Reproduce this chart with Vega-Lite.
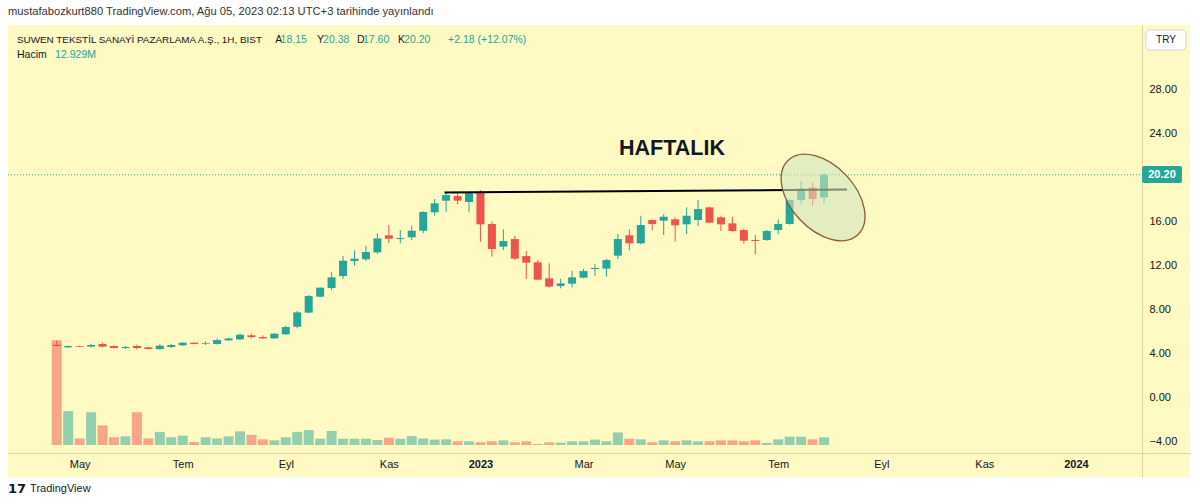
{
  "$schema": "https://vega.github.io/schema/vega-lite/v6.json",
  "width": 1182,
  "height": 452,
  "autosize": {"type": "none"},
  "padding": {"left": 8, "top": 25, "right": 10, "bottom": 27},
  "background": "#ffffff",
  "config": {
    "view": {"fill": "#fff9c4", "stroke": null},
    "font": "Liberation Sans",
    "text": {"font": "Liberation Sans"},
    "scale": {"continuousPadding": 0}
  },
  "datasets": {
    "candles": [
      {"d": "2022-04-18", "o": 4.76, "h": 5.12, "l": 4.60, "c": 4.64, "v": 176},
      {"d": "2022-04-25", "o": 4.52, "h": 4.67, "l": 4.45, "c": 4.64, "v": 57},
      {"d": "2022-05-02", "o": 4.61, "h": 4.66, "l": 4.52, "c": 4.55, "v": 11},
      {"d": "2022-05-09", "o": 4.58, "h": 4.85, "l": 4.52, "c": 4.73, "v": 55},
      {"d": "2022-05-16", "o": 4.82, "h": 4.94, "l": 4.52, "c": 4.58, "v": 33},
      {"d": "2022-05-23", "o": 4.64, "h": 4.70, "l": 4.42, "c": 4.45, "v": 13},
      {"d": "2022-05-30", "o": 4.45, "h": 4.64, "l": 4.39, "c": 4.55, "v": 14.6},
      {"d": "2022-06-06", "o": 4.64, "h": 4.76, "l": 4.33, "c": 4.45, "v": 55},
      {"d": "2022-06-13", "o": 4.52, "h": 4.55, "l": 4.33, "c": 4.36, "v": 11},
      {"d": "2022-06-20", "o": 4.36, "h": 4.79, "l": 4.30, "c": 4.67, "v": 22},
      {"d": "2022-06-27", "o": 4.55, "h": 4.82, "l": 4.45, "c": 4.73, "v": 13},
      {"d": "2022-07-04", "o": 4.70, "h": 4.97, "l": 4.64, "c": 4.94, "v": 15.7},
      {"d": "2022-07-11", "o": 4.94, "h": 4.97, "l": 4.79, "c": 4.82, "v": 5},
      {"d": "2022-07-18", "o": 4.82, "h": 5.06, "l": 4.73, "c": 4.88, "v": 13},
      {"d": "2022-07-25", "o": 4.82, "h": 5.30, "l": 4.76, "c": 5.18, "v": 11},
      {"d": "2022-08-01", "o": 5.15, "h": 5.39, "l": 5.12, "c": 5.33, "v": 14.6},
      {"d": "2022-08-08", "o": 5.24, "h": 5.78, "l": 5.19, "c": 5.66, "v": 23},
      {"d": "2022-08-15", "o": 5.61, "h": 5.76, "l": 5.33, "c": 5.45, "v": 17},
      {"d": "2022-08-22", "o": 5.45, "h": 5.61, "l": 5.30, "c": 5.33, "v": 9.5},
      {"d": "2022-08-29", "o": 5.33, "h": 5.82, "l": 5.30, "c": 5.76, "v": 7.8},
      {"d": "2022-09-05", "o": 5.70, "h": 6.48, "l": 5.64, "c": 6.36, "v": 13},
      {"d": "2022-09-12", "o": 6.39, "h": 7.82, "l": 6.24, "c": 7.70, "v": 22},
      {"d": "2022-09-19", "o": 7.67, "h": 9.27, "l": 7.61, "c": 9.18, "v": 25},
      {"d": "2022-09-26", "o": 9.12, "h": 9.97, "l": 9.06, "c": 9.94, "v": 10.6},
      {"d": "2022-10-03", "o": 9.91, "h": 11.36, "l": 9.73, "c": 10.88, "v": 23.5},
      {"d": "2022-10-10", "o": 11.00, "h": 12.82, "l": 10.76, "c": 12.39, "v": 10.6},
      {"d": "2022-10-17", "o": 12.36, "h": 13.33, "l": 11.94, "c": 12.58, "v": 10.6},
      {"d": "2022-10-24", "o": 12.52, "h": 13.76, "l": 12.36, "c": 13.18, "v": 10.6},
      {"d": "2022-10-31", "o": 13.15, "h": 14.88, "l": 13.00, "c": 14.42, "v": 8.4},
      {"d": "2022-11-07", "o": 14.70, "h": 15.64, "l": 14.00, "c": 14.39, "v": 12.3},
      {"d": "2022-11-14", "o": 14.36, "h": 15.18, "l": 13.97, "c": 14.45, "v": 10.6},
      {"d": "2022-11-21", "o": 14.52, "h": 15.58, "l": 14.27, "c": 15.12, "v": 15},
      {"d": "2022-11-28", "o": 15.12, "h": 16.91, "l": 14.88, "c": 16.82, "v": 11},
      {"d": "2022-12-05", "o": 16.79, "h": 18.00, "l": 16.48, "c": 17.61, "v": 9},
      {"d": "2022-12-12", "o": 17.85, "h": 18.58, "l": 16.85, "c": 18.36, "v": 9.5},
      {"d": "2022-12-19", "o": 18.27, "h": 18.52, "l": 17.52, "c": 17.85, "v": 6.2},
      {"d": "2022-12-26", "o": 17.73, "h": 18.67, "l": 16.79, "c": 18.58, "v": 6.2},
      {"d": "2023-01-02", "o": 18.64, "h": 18.80, "l": 14.12, "c": 15.70, "v": 4.5},
      {"d": "2023-01-09", "o": 15.73, "h": 15.97, "l": 12.76, "c": 13.45, "v": 6.2},
      {"d": "2023-01-16", "o": 13.67, "h": 15.24, "l": 13.36, "c": 14.18, "v": 7.8},
      {"d": "2023-01-23", "o": 14.36, "h": 14.64, "l": 12.45, "c": 12.58, "v": 4.5},
      {"d": "2023-01-30", "o": 12.82, "h": 13.27, "l": 10.73, "c": 12.21, "v": 6.2},
      {"d": "2023-02-06", "o": 12.24, "h": 12.45, "l": 10.64, "c": 10.67, "v": 1.7},
      {"d": "2023-02-13", "o": 10.79, "h": 12.15, "l": 9.94, "c": 10.03, "v": 4.5},
      {"d": "2023-02-20", "o": 10.09, "h": 10.76, "l": 9.88, "c": 10.33, "v": 3.9},
      {"d": "2023-02-27", "o": 10.30, "h": 11.48, "l": 9.97, "c": 10.88, "v": 6.2},
      {"d": "2023-03-06", "o": 10.85, "h": 11.64, "l": 10.79, "c": 11.45, "v": 6.2},
      {"d": "2023-03-13", "o": 11.64, "h": 12.09, "l": 11.03, "c": 11.73, "v": 9},
      {"d": "2023-03-20", "o": 11.67, "h": 12.58, "l": 10.94, "c": 12.45, "v": 6.2},
      {"d": "2023-03-27", "o": 12.85, "h": 14.82, "l": 12.55, "c": 14.36, "v": 21},
      {"d": "2023-04-03", "o": 14.70, "h": 15.24, "l": 13.36, "c": 13.97, "v": 10.6},
      {"d": "2023-04-10", "o": 13.97, "h": 16.48, "l": 13.88, "c": 15.64, "v": 9.5},
      {"d": "2023-04-17", "o": 16.09, "h": 16.15, "l": 15.18, "c": 15.73, "v": 4.5},
      {"d": "2023-04-24", "o": 16.03, "h": 16.61, "l": 14.73, "c": 16.39, "v": 7.8},
      {"d": "2023-05-01", "o": 16.15, "h": 16.33, "l": 14.12, "c": 15.61, "v": 6.2},
      {"d": "2023-05-08", "o": 15.70, "h": 17.24, "l": 14.82, "c": 16.48, "v": 7.8},
      {"d": "2023-05-15", "o": 16.09, "h": 17.91, "l": 15.55, "c": 17.09, "v": 6.2},
      {"d": "2023-05-22", "o": 17.24, "h": 17.30, "l": 15.79, "c": 15.85, "v": 6.2},
      {"d": "2023-05-29", "o": 16.33, "h": 16.45, "l": 15.09, "c": 15.70, "v": 7.8},
      {"d": "2023-06-05", "o": 15.79, "h": 16.39, "l": 15.03, "c": 15.09, "v": 7.8},
      {"d": "2023-06-12", "o": 15.18, "h": 15.33, "l": 13.97, "c": 14.21, "v": 6.2},
      {"d": "2023-06-19", "o": 14.27, "h": 14.73, "l": 12.97, "c": 14.18, "v": 7.8},
      {"d": "2023-06-26", "o": 14.27, "h": 15.18, "l": 14.21, "c": 15.09, "v": 3.4},
      {"d": "2023-07-03", "o": 15.18, "h": 16.15, "l": 14.79, "c": 15.73, "v": 9.5},
      {"d": "2023-07-10", "o": 15.73, "h": 18.00, "l": 15.67, "c": 17.91, "v": 14},
      {"d": "2023-07-17", "o": 17.91, "h": 19.64, "l": 17.52, "c": 18.94, "v": 14},
      {"d": "2023-07-24", "o": 19.03, "h": 19.48, "l": 17.39, "c": 18.00, "v": 9.5},
      {"d": "2023-07-31", "o": 18.15, "h": 20.38, "l": 17.60, "c": 20.20, "v": 12.929}
    ],
    "headerTitle": [
      {"x": "2022-03-19T05:00:00Z", "y": 35.0, "t": "mustafabozkurt880 TradingView.com, Ağu 05, 2023 02:13 UTC+3 tarihinde yayınlandı"}
    ],
    "legendName": [
      {"x": "2022-03-24T17:00:00Z", "y": 32.45, "t": "SUWEN TEKSTİL SANAYİ PAZARLAMA A.Ş., 1H, BIST"}
    ],
    "legendDark": [
      {"x": "2022-08-29T12:00:00Z", "y": 32.45, "t": "A"},
      {"x": "2022-09-24T02:00:00Z", "y": 32.45, "t": "Y"},
      {"x": "2022-10-18T14:00:00Z", "y": 32.45, "t": "D"},
      {"x": "2022-11-12T14:00:00Z", "y": 32.45, "t": "K"},
      {"x": "2022-03-24T17:00:00Z", "y": 31.09, "t": "Hacim"}
    ],
    "legendTeal": [
      {"x": "2022-09-01T20:00:00Z", "y": 32.45, "t": "18.15"},
      {"x": "2022-09-27T19:00:00Z", "y": 32.45, "t": "20.38"},
      {"x": "2022-10-22T05:00:00Z", "y": 32.45, "t": "17.60"},
      {"x": "2022-11-16T07:00:00Z", "y": 32.45, "t": "20.20"},
      {"x": "2022-12-13T05:00:00Z", "y": 32.45, "t": "+2.18 (+12.07%)"},
      {"x": "2022-04-17T00:00:00Z", "y": 31.09, "t": "12.929M"}
    ],
    "lastLine": [
      {"x": "2022-03-19T05:00:00Z", "x2": "2024-02-10T10:00:00Z", "y": 20.2}
    ],
    "resistance": [
      {"x": "2022-12-11", "x2": "2023-08-14", "y": 18.59, "y2": 18.86}
    ],
    "ellipse": [
      {"x": "2023-07-30T10:00:00Z", "y": 18.14}
    ],
    "note": [
      {"x": "2023-04-29T02:00:00Z", "y": 22.55, "t": "HAFTALIK"}
    ],
    "tryBox": [
      {"x": "2024-02-12T19:00:00Z", "x2": "2024-03-08T07:00:00Z", "y": 33.36, "y2": 31.55, "xm": "2024-02-25T00:00:00Z", "ym": 32.45, "t": "TRY"}
    ],
    "priceTag": [
      {"x": "2024-02-10T10:00:00Z", "x2": "2024-03-05T19:00:00Z", "y": 21.0, "y2": 19.45, "xm": "2024-02-22T14:00:00Z", "ym": 20.2, "t": "20.20"}
    ],
    "footer": [
      {"x": "2022-04-01T17:00:00Z", "y": -8.36, "t": "TradingView"}
    ],
    "logo": [
      {"x": "2022-03-19T05:00:00Z", "y": -8.36, "t": "17"}
    ]
  },
  "layer": [
    {
      "data": {"name": "candles"},
      "mark": {"type": "bar", "size": 10, "opacity": 0.5},
      "encoding": {
        "x": {"field": "d", "type": "temporal", "scale": {"type": "utc", "domain": [{"year": 2022, "month": 3, "date": 19, "hours": 5, "utc": true}, {"year": 2024, "month": 3, "date": 10, "hours": 17, "utc": true}], "nice": false, "padding": 0}, "axis": {"title": null}},
        "y": {"field": "v", "type": "quantitative", "scale": {"domain": [-53.8, 705.9], "nice": false, "zero": false, "padding": 0}, "axis": null},
        "y2": {"datum": 0},
        "color": {"condition": {"test": "datum.c < datum.o", "value": "#ef5350"}, "value": "#26a69a"}
      }
    },
    {
      "layer": [
        {
          "data": {"name": "candles"},
          "mark": {"type": "rule", "strokeWidth": 1},
          "encoding": {
            "x": {"field": "d", "type": "temporal", "scale": {"type": "utc", "domain": [{"year": 2022, "month": 3, "date": 19, "hours": 5, "utc": true}, {"year": 2024, "month": 3, "date": 10, "hours": 17, "utc": true}], "nice": false, "padding": 0},
              "axis": {
                "title": null, "orient": "bottom", "offset": -24,
                "values": [
                  {"year": 2022, "month": 5, "date": 2, "utc": true},
                  {"year": 2022, "month": 7, "date": 4, "utc": true},
                  {"year": 2022, "month": 9, "date": 5, "utc": true},
                  {"year": 2022, "month": 11, "date": 7, "utc": true},
                  {"year": 2023, "month": 1, "date": 2, "utc": true},
                  {"year": 2023, "month": 3, "date": 6, "utc": true},
                  {"year": 2023, "month": 5, "date": 1, "utc": true},
                  {"year": 2023, "month": 7, "date": 3, "utc": true},
                  {"year": 2023, "month": 9, "date": 4, "utc": true},
                  {"year": 2023, "month": 11, "date": 6, "utc": true},
                  {"year": 2024, "month": 1, "date": 1, "utc": true}
                ],
                "labelExpr": "utcmonth(datum.value) == 0 ? utcFormat(datum.value, '%Y') : ['Oca','Şub','Mar','Nis','May','Haz','Tem','Ağu','Eyl','Eki','Kas','Ara'][utcmonth(datum.value)]",
                "domain": true, "domainColor": "#dcd6a6", "domainWidth": 1,
                "ticks": false, "grid": false,
                "labelPadding": 5, "labelFontSize": 11, "labelColor": "#131722", "labelFont": "Liberation Sans",
                "labelFlush": false, "labelOverlap": false,
                "labelFontWeight": {"condition": {"test": "utcmonth(datum.value) == 0", "value": "bold"}, "value": "normal"}
              }
            },
            "y": {"field": "l", "type": "quantitative", "scale": {"domain": [-7.27, 33.82], "nice": false, "zero": false, "padding": 0},
              "axis": {
                "title": null, "orient": "right", "offset": -48,
                "values": [-4, 0, 4, 8, 12, 16, 20, 24, 28],
                "format": ".2f",
                "domain": true, "domainColor": "#dcd6a6", "domainWidth": 1,
                "ticks": false, "grid": false,
                "labelPadding": 7, "labelFontSize": 11, "labelColor": "#131722", "labelFont": "Liberation Sans",
                "labelFlush": false, "labelOverlap": false
              }
            },
            "y2": {"field": "h"},
            "color": {"condition": {"test": "datum.c < datum.o", "value": "#ef5350"}, "value": "#26a69a"}
          }
        },
        {
          "data": {"name": "candles"},
          "mark": {"type": "bar", "size": 8},
          "encoding": {
            "x": {"field": "d", "type": "temporal", "scale": {"type": "utc", "domain": [{"year": 2022, "month": 3, "date": 19, "hours": 5, "utc": true}, {"year": 2024, "month": 3, "date": 10, "hours": 17, "utc": true}], "nice": false, "padding": 0}, "axis": {"title": null}},
            "y": {"field": "o", "type": "quantitative", "scale": {"domain": [-7.27, 33.82], "nice": false, "zero": false, "padding": 0}, "axis": {"title": null}},
            "y2": {"field": "c"},
            "color": {"condition": {"test": "datum.c < datum.o", "value": "#ef5350"}, "value": "#26a69a"}
          }
        },
        {
          "data": {"name": "lastLine"},
          "mark": {"type": "rule", "strokeWidth": 1, "strokeDash": [1, 2], "color": "#26a69a"},
          "encoding": {
            "x": {"field": "x", "type": "temporal", "scale": {"type": "utc", "domain": [{"year": 2022, "month": 3, "date": 19, "hours": 5, "utc": true}, {"year": 2024, "month": 3, "date": 10, "hours": 17, "utc": true}], "nice": false, "padding": 0}, "axis": {"title": null}},
            "x2": {"field": "x2"},
            "y": {"field": "y", "type": "quantitative", "scale": {"domain": [-7.27, 33.82], "nice": false, "zero": false, "padding": 0}, "axis": {"title": null}}
          }
        },
        {
          "data": {"name": "resistance"},
          "mark": {"type": "rule", "strokeWidth": 2, "color": "#000000"},
          "encoding": {
            "x": {"field": "x", "type": "temporal", "scale": {"type": "utc", "domain": [{"year": 2022, "month": 3, "date": 19, "hours": 5, "utc": true}, {"year": 2024, "month": 3, "date": 10, "hours": 17, "utc": true}], "nice": false, "padding": 0}, "axis": {"title": null}},
            "x2": {"field": "x2"},
            "y": {"field": "y", "type": "quantitative", "scale": {"domain": [-7.27, 33.82], "nice": false, "zero": false, "padding": 0}, "axis": {"title": null}},
            "y2": {"field": "y2"}
          }
        },
        {
          "data": {"name": "ellipse"},
          "mark": {"type": "point", "shape": "M0.682,0.731C0.429,0.968,-0.082,0.832,-0.459,0.428C-0.835,0.024,-0.935,-0.495,-0.682,-0.731C-0.429,-0.968,0.082,-0.832,0.459,-0.428C0.835,-0.024,0.935,0.495,0.682,0.731Z", "size": 10404, "filled": true, "fill": "#d0e5bd", "fillOpacity": 0.6, "stroke": "#8b5a3c", "strokeOpacity": 1, "strokeWidth": 1.3, "opacity": 1},
          "encoding": {
            "x": {"field": "x", "type": "temporal", "scale": {"type": "utc", "domain": [{"year": 2022, "month": 3, "date": 19, "hours": 5, "utc": true}, {"year": 2024, "month": 3, "date": 10, "hours": 17, "utc": true}], "nice": false, "padding": 0}, "axis": {"title": null}},
            "y": {"field": "y", "type": "quantitative", "scale": {"domain": [-7.27, 33.82], "nice": false, "zero": false, "padding": 0}, "axis": {"title": null}}
          }
        },
        {
          "data": {"name": "note"},
          "mark": {"type": "text", "fontSize": 21.5, "fontWeight": "bold", "color": "#131722", "align": "center", "baseline": "middle", "font": "Liberation Sans"},
          "encoding": {
            "x": {"field": "x", "type": "temporal", "scale": {"type": "utc", "domain": [{"year": 2022, "month": 3, "date": 19, "hours": 5, "utc": true}, {"year": 2024, "month": 3, "date": 10, "hours": 17, "utc": true}], "nice": false, "padding": 0}, "axis": {"title": null}},
            "y": {"field": "y", "type": "quantitative", "scale": {"domain": [-7.27, 33.82], "nice": false, "zero": false, "padding": 0}, "axis": {"title": null}},
            "text": {"field": "t"}
          }
        },
        {
          "data": {"name": "headerTitle"},
          "mark": {"type": "text", "fontSize": 11.2, "color": "#333333", "align": "left", "baseline": "middle", "font": "Liberation Sans"},
          "encoding": {
            "x": {"field": "x", "type": "temporal", "scale": {"type": "utc", "domain": [{"year": 2022, "month": 3, "date": 19, "hours": 5, "utc": true}, {"year": 2024, "month": 3, "date": 10, "hours": 17, "utc": true}], "nice": false, "padding": 0}, "axis": {"title": null}},
            "y": {"field": "y", "type": "quantitative", "scale": {"domain": [-7.27, 33.82], "nice": false, "zero": false, "padding": 0}, "axis": {"title": null}},
            "text": {"field": "t"}
          }
        },
        {
          "data": {"name": "legendName"},
          "mark": {"type": "text", "fontSize": 9.9, "color": "#131722", "align": "left", "baseline": "middle", "font": "Liberation Sans"},
          "encoding": {
            "x": {"field": "x", "type": "temporal", "scale": {"type": "utc", "domain": [{"year": 2022, "month": 3, "date": 19, "hours": 5, "utc": true}, {"year": 2024, "month": 3, "date": 10, "hours": 17, "utc": true}], "nice": false, "padding": 0}, "axis": {"title": null}},
            "y": {"field": "y", "type": "quantitative", "scale": {"domain": [-7.27, 33.82], "nice": false, "zero": false, "padding": 0}, "axis": {"title": null}},
            "text": {"field": "t"}
          }
        },
        {
          "data": {"name": "legendDark"},
          "mark": {"type": "text", "fontSize": 10.5, "color": "#131722", "align": "left", "baseline": "middle", "font": "Liberation Sans"},
          "encoding": {
            "x": {"field": "x", "type": "temporal", "scale": {"type": "utc", "domain": [{"year": 2022, "month": 3, "date": 19, "hours": 5, "utc": true}, {"year": 2024, "month": 3, "date": 10, "hours": 17, "utc": true}], "nice": false, "padding": 0}, "axis": {"title": null}},
            "y": {"field": "y", "type": "quantitative", "scale": {"domain": [-7.27, 33.82], "nice": false, "zero": false, "padding": 0}, "axis": {"title": null}},
            "text": {"field": "t"}
          }
        },
        {
          "data": {"name": "legendTeal"},
          "mark": {"type": "text", "fontSize": 10.5, "color": "#26a69a", "align": "left", "baseline": "middle", "font": "Liberation Sans"},
          "encoding": {
            "x": {"field": "x", "type": "temporal", "scale": {"type": "utc", "domain": [{"year": 2022, "month": 3, "date": 19, "hours": 5, "utc": true}, {"year": 2024, "month": 3, "date": 10, "hours": 17, "utc": true}], "nice": false, "padding": 0}, "axis": {"title": null}},
            "y": {"field": "y", "type": "quantitative", "scale": {"domain": [-7.27, 33.82], "nice": false, "zero": false, "padding": 0}, "axis": {"title": null}},
            "text": {"field": "t"}
          }
        },
        {
          "data": {"name": "tryBox"},
          "mark": {"type": "rect", "fill": "#ffffff", "stroke": "#d1d4dc", "strokeWidth": 1, "cornerRadius": 4},
          "encoding": {
            "x": {"field": "x", "type": "temporal", "scale": {"type": "utc", "domain": [{"year": 2022, "month": 3, "date": 19, "hours": 5, "utc": true}, {"year": 2024, "month": 3, "date": 10, "hours": 17, "utc": true}], "nice": false, "padding": 0}, "axis": {"title": null}},
            "x2": {"field": "x2"},
            "y": {"field": "y", "type": "quantitative", "scale": {"domain": [-7.27, 33.82], "nice": false, "zero": false, "padding": 0}, "axis": {"title": null}},
            "y2": {"field": "y2"}
          }
        },
        {
          "data": {"name": "tryBox"},
          "mark": {"type": "text", "fontSize": 10, "color": "#131722", "align": "center", "baseline": "middle", "font": "Liberation Sans"},
          "encoding": {
            "x": {"field": "xm", "type": "temporal", "scale": {"type": "utc", "domain": [{"year": 2022, "month": 3, "date": 19, "hours": 5, "utc": true}, {"year": 2024, "month": 3, "date": 10, "hours": 17, "utc": true}], "nice": false, "padding": 0}, "axis": {"title": null}},
            "y": {"field": "ym", "type": "quantitative", "scale": {"domain": [-7.27, 33.82], "nice": false, "zero": false, "padding": 0}, "axis": {"title": null}},
            "text": {"field": "t"}
          }
        },
        {
          "data": {"name": "priceTag"},
          "mark": {"type": "rect", "fill": "#26a69a", "cornerRadius": 2},
          "encoding": {
            "x": {"field": "x", "type": "temporal", "scale": {"type": "utc", "domain": [{"year": 2022, "month": 3, "date": 19, "hours": 5, "utc": true}, {"year": 2024, "month": 3, "date": 10, "hours": 17, "utc": true}], "nice": false, "padding": 0}, "axis": {"title": null}},
            "x2": {"field": "x2"},
            "y": {"field": "y", "type": "quantitative", "scale": {"domain": [-7.27, 33.82], "nice": false, "zero": false, "padding": 0}, "axis": {"title": null}},
            "y2": {"field": "y2"}
          }
        },
        {
          "data": {"name": "priceTag"},
          "mark": {"type": "text", "fontSize": 11, "fontWeight": "bold", "color": "#ffffff", "align": "center", "baseline": "middle", "font": "Liberation Sans"},
          "encoding": {
            "x": {"field": "xm", "type": "temporal", "scale": {"type": "utc", "domain": [{"year": 2022, "month": 3, "date": 19, "hours": 5, "utc": true}, {"year": 2024, "month": 3, "date": 10, "hours": 17, "utc": true}], "nice": false, "padding": 0}, "axis": {"title": null}},
            "y": {"field": "ym", "type": "quantitative", "scale": {"domain": [-7.27, 33.82], "nice": false, "zero": false, "padding": 0}, "axis": {"title": null}},
            "text": {"field": "t"}
          }
        },
        {
          "data": {"name": "footer"},
          "mark": {"type": "text", "fontSize": 11, "color": "#131722", "align": "left", "baseline": "middle", "font": "Liberation Sans"},
          "encoding": {
            "x": {"field": "x", "type": "temporal", "scale": {"type": "utc", "domain": [{"year": 2022, "month": 3, "date": 19, "hours": 5, "utc": true}, {"year": 2024, "month": 3, "date": 10, "hours": 17, "utc": true}], "nice": false, "padding": 0}, "axis": {"title": null}},
            "y": {"field": "y", "type": "quantitative", "scale": {"domain": [-7.27, 33.82], "nice": false, "zero": false, "padding": 0}, "axis": {"title": null}},
            "text": {"field": "t"}
          }
        },
        {
          "data": {"name": "logo"},
          "mark": {"type": "text", "fontSize": 13, "fontWeight": "bold", "color": "#131722", "align": "left", "baseline": "middle", "font": "DejaVu Sans"},
          "encoding": {
            "x": {"field": "x", "type": "temporal", "scale": {"type": "utc", "domain": [{"year": 2022, "month": 3, "date": 19, "hours": 5, "utc": true}, {"year": 2024, "month": 3, "date": 10, "hours": 17, "utc": true}], "nice": false, "padding": 0}, "axis": {"title": null}},
            "y": {"field": "y", "type": "quantitative", "scale": {"domain": [-7.27, 33.82], "nice": false, "zero": false, "padding": 0}, "axis": {"title": null}},
            "text": {"field": "t"}
          }
        }
      ]
    }
  ],
  "resolve": {"scale": {"y": "independent"}}
}
